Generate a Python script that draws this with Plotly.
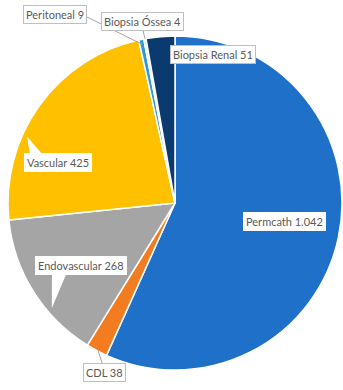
import math
import plotly.graph_objects as go

# Procedimentos por tipo
labels = ["Permcath", "CDL", "Endovascular", "Vascular", "Peritoneal", "Biopsia Óssea", "Biopsia Renal"]
values = [1042, 38, 268, 425, 9, 4, 51]
colors = ["#1F70C8", "#F47C20", "#A5A5A5", "#FFC000", "#2E97DB", "#DCE4EE", "#0B3A6E"]

W, H = 343, 390
CX, CY, R = 175, 203, 167  # pie centre and radius in pixels

fig = go.Figure(go.Pie(
    labels=labels,
    values=values,
    sort=False,
    direction="clockwise",
    rotation=0,
    textinfo="none",
    hoverinfo="label+value",
    marker=dict(colors=colors, line=dict(color="white", width=1.5)),
    domain=dict(x=[(CX - R) / W, (CX + R) / W], y=[1 - (CY + R) / H, 1 - (CY - R) / H]),
    showlegend=False,
))

# start / end angle of each slice, clockwise from 12 o'clock
total = sum(values)
spans = []
acc = 0
for v in values:
    spans.append((acc / total * 360, (acc + v) / total * 360))
    acc += v


def fmt(v):
    return f"{v:,}".replace(",", ".")


def px(x, y):
    return x / W, 1 - y / H


# label box left edge / vertical centre (px); leader: None / "line" / "callout"
# frac = where along the slice the leader points, rf = radius fraction of the tip
label_cfg = {
    "Permcath": dict(pos=(243, 221), leader=None, boxed=False),
    "CDL": dict(pos=(83, 372), leader="line", frac=0.5, rf=0.99, src=(22, 0), boxed=True),
    "Endovascular": dict(pos=(35, 265), leader="callout", frac=0.34, rf=0.97, base=26, boxed=False),
    "Vascular": dict(pos=(24, 162), leader="callout", frac=0.36, rf=0.97, base=16, boxed=False),
    "Peritoneal": dict(pos=(23, 15), leader="line", frac=0.5, rf=0.97, src=(60, 0), boxed=True),
    "Biopsia Óssea": dict(pos=(101, 21), leader="line", frac=0.5, rf=1.0, src=(40, 0), boxed=True),
    "Biopsia Renal": dict(pos=(170, 55), leader=None, boxed=True),
}

annotations = []
shapes = []
for lab, val, (a0, a1) in zip(labels, values, spans):
    cfg = label_cfg[lab]
    lx, ly = cfg["pos"]
    x, y = px(lx, ly)
    annotations.append(dict(
        text=f"{lab} {fmt(val)}",
        x=x, y=y, xref="paper", yref="paper",
        xanchor="left", yanchor="middle", showarrow=False,
        font=dict(family="Lato, Carlito, Arial", size=11, color="#595959"),
        bgcolor="white",
        bordercolor="#BFBFBF" if cfg["boxed"] else "white",
        borderwidth=1,
        borderpad=2,
    ))
    if cfg["leader"] is None:
        continue
    ang = math.radians(a0 + cfg["frac"] * (a1 - a0))
    tx = CX + cfg["rf"] * R * math.sin(ang)
    ty = CY - cfg["rf"] * R * math.cos(ang)
    if cfg["leader"] == "line":
        x0, y0 = px(lx + cfg["src"][0], ly + cfg["src"][1])
        x1, y1 = px(tx, ty)
        shapes.append(dict(type="line", xref="paper", yref="paper",
                           x0=x0, y0=y0, x1=x1, y1=y1,
                           line=dict(color="#A6A6A6", width=1), layer="above"))
    else:
        bx = lx + cfg["base"]
        p = [px(bx - 9, ly), px(bx + 9, ly), px(tx, ty)]
        path = "M {} {} L {} {} L {} {} Z".format(*[c for pt in p for c in pt])
        shapes.append(dict(type="path", xref="paper", yref="paper", path=path,
                           fillcolor="white", line=dict(width=0), layer="above"))

fig.update_layout(
    width=W, height=H,
    margin=dict(l=0, r=0, t=0, b=0),
    paper_bgcolor="white",
    plot_bgcolor="white",
    annotations=annotations,
    shapes=shapes,
)

fig.write_html("out.html")
